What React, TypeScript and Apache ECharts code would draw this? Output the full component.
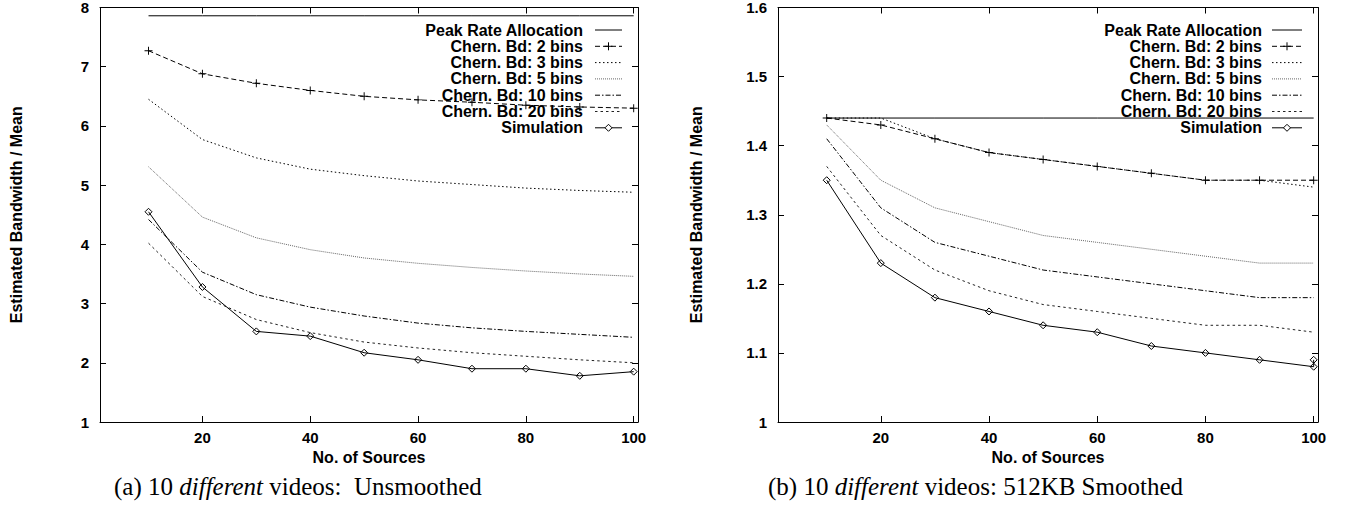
import React, { useEffect, useRef } from "react";
import * as echarts from "echarts";

// ---------- data ----------
const sources = [10, 20, 30, 40, 50, 60, 70, 80, 90, 100];
const xTicks = [20, 40, 60, 80, 100];

// (a) 10 different videos: Unsmoothed
const aPeak = [7.86, 7.86, 7.86, 7.86, 7.86, 7.86, 7.86, 7.86, 7.86, 7.86];
const aChern2 = [7.27, 6.88, 6.72, 6.6, 6.5, 6.44, 6.4, 6.35, 6.32, 6.3];
const aChern3 = [6.45, 5.77, 5.46, 5.27, 5.16, 5.07, 5.01, 4.95, 4.91, 4.88];
const aChern5 = [5.31, 4.46, 4.11, 3.91, 3.77, 3.68, 3.61, 3.55, 3.5, 3.46];
const aChern10 = [4.42, 3.53, 3.15, 2.94, 2.79, 2.67, 2.59, 2.53, 2.48, 2.43];
const aChern20 = [4.02, 3.12, 2.73, 2.51, 2.35, 2.25, 2.17, 2.11, 2.05, 2.0];
const aSim = [4.55, 3.28, 2.53, 2.45, 2.17, 2.05, 1.9, 1.9, 1.78, 1.85];

// (b) 10 different videos: 512KB Smoothed
const bPeak = [1.44, 1.44, 1.44, 1.44, 1.44, 1.44, 1.44, 1.44, 1.44, 1.44];
const bChern2 = [1.44, 1.43, 1.41, 1.39, 1.38, 1.37, 1.36, 1.35, 1.35, 1.35];
const bChern3 = [1.44, 1.44, 1.41, 1.39, 1.38, 1.37, 1.36, 1.35, 1.35, 1.34];
const bChern5 = [1.43, 1.35, 1.31, 1.29, 1.27, 1.26, 1.25, 1.24, 1.23, 1.23];
const bChern10 = [1.41, 1.31, 1.26, 1.24, 1.22, 1.21, 1.2, 1.19, 1.18, 1.18];
const bChern20 = [1.37, 1.27, 1.22, 1.19, 1.17, 1.16, 1.15, 1.14, 1.14, 1.13];
const bSim = [1.35, 1.23, 1.18, 1.16, 1.14, 1.13, 1.11, 1.1, 1.09, 1.08];
const bSimExtra = [[100, 1.09]];

const legendNames = [
  "Peak Rate Allocation",
  "Chern. Bd: 2 bins",
  "Chern. Bd: 3 bins",
  "Chern. Bd: 5 bins",
  "Chern. Bd: 10 bins",
  "Chern. Bd: 20 bins",
  "Simulation",
];
const captionA = "(a) 10 {i|different} videos:\u00A0 Unsmoothed";
const captionB = "(b) 10 {i|different} videos: 512KB Smoothed";

// ---------- styles ----------
const SANS = "Liberation Sans";
const SERIF = "Liberation Serif";
const PLUS = "path://M4.4,0H5.6V4.4H10V5.6H5.6V10H4.4V5.6H0V4.4H4.4Z";

type Sty = { dash: number[] | "solid"; color: string; marker?: "plus" | "diamond" };
const styles: Sty[] = [
  { dash: "solid", color: "#000" },
  { dash: [5, 3], color: "#000", marker: "plus" },
  { dash: [1.5, 2.5], color: "#000" },
  { dash: [1, 1], color: "#666" },
  { dash: [5, 2, 1.5, 2], color: "#000" },
  { dash: [2.5, 3], color: "#222" },
  { dash: "solid", color: "#000", marker: "diamond" },
];

function pairs(vals: number[]) {
  return sources.map((s, i) => [s, vals[i]]);
}

function makeSeries(sets: number[][], xi: number, yi: number) {
  return sets.map((vals, k) => {
    const st = styles[k];
    const s: any = {
      type: "line",
      name: legendNames[k],
      xAxisIndex: xi,
      yAxisIndex: yi,
      data: pairs(vals),
      lineStyle: { color: st.color, width: 1, type: st.dash },
      showSymbol: !!st.marker,
      symbol: st.marker === "plus" ? PLUS : st.marker === "diamond" ? "diamond" : "none",
      symbolSize: st.marker === "plus" ? 8 : 7,
      itemStyle:
        st.marker === "diamond"
          ? { color: "transparent", borderColor: "#000", borderWidth: 1 }
          : { color: "#000" },
      z: 3,
      silent: true,
    };
    return s;
  });
}

function legendGraphics(textRight: number, lineX1: number, lineX2: number) {
  const els: any[] = [];
  const y0 = 30;
  const dy = 16.3;
  legendNames.forEach((name, k) => {
    const y = y0 + k * dy;
    const st = styles[k];
    els.push({
      type: "text",
      x: textRight,
      y,
      style: {
        text: name,
        font: `bold 16px "${SANS}"`,
        fill: "#000",
        align: "right",
        verticalAlign: "middle",
      },
    });
    els.push({
      type: "line",
      shape: { x1: lineX1, y1: y, x2: lineX2, y2: y },
      style: {
        stroke: st.color,
        lineWidth: 1,
        lineDash: st.dash === "solid" ? null : st.dash,
      },
    });
    const cx = (lineX1 + lineX2) / 2;
    if (st.marker === "plus") {
      els.push({ type: "line", shape: { x1: cx - 4, y1: y, x2: cx + 4, y2: y }, style: { stroke: "#000", lineWidth: 1 } });
      els.push({ type: "line", shape: { x1: cx, y1: y - 4, x2: cx, y2: y + 4 }, style: { stroke: "#000", lineWidth: 1 } });
    } else if (st.marker === "diamond") {
      els.push({
        type: "polygon",
        shape: { points: [[cx, y - 3.5], [cx + 3.5, y], [cx, y + 3.5], [cx - 3.5, y]] },
        style: { fill: "#fff", stroke: "#000", lineWidth: 1 },
      });
    }
  });
  return els;
}

const labelFont = { fontFamily: SANS, fontWeight: "bold" as const, fontSize: 15, color: "#000" };
const nameFont = { fontFamily: SANS, fontWeight: "bold" as const, fontSize: 16, color: "#000" };
const axisLine = { show: true, lineStyle: { color: "#000", width: 1 } };

function xAxes(grid: number) {
  return [
    {
      type: "value",
      gridIndex: grid,
      position: "bottom",
      min: 1,
      max: 100.8,
      name: "No. of Sources",
      nameLocation: "middle",
      nameGap: 22,
      nameTextStyle: nameFont,
      axisLine,
      axisTick: { show: true, inside: true, length: 6, customValues: xTicks, lineStyle: { color: "#000" } },
      axisLabel: { show: true, margin: 8, customValues: xTicks, ...labelFont },
      splitLine: { show: false },
    },
    {
      type: "value",
      gridIndex: grid,
      position: "top",
      min: 1,
      max: 100.8,
      axisLine,
      axisTick: { show: true, inside: true, length: 6, customValues: xTicks, lineStyle: { color: "#000" } },
      axisLabel: { show: false },
      splitLine: { show: false },
    },
  ];
}

function yAxes(grid: number, min: number, max: number, interval: number, gap: number, fmt: (v: number) => string) {
  return [
    {
      type: "value",
      gridIndex: grid,
      position: "left",
      min,
      max,
      interval,
      name: "Estimated Bandwidth / Mean",
      nameLocation: "middle",
      nameGap: gap,
      nameRotate: 90,
      nameTextStyle: nameFont,
      axisLine,
      axisTick: { show: true, inside: true, length: 6, lineStyle: { color: "#000" } },
      axisLabel: { show: true, margin: 11, formatter: fmt, ...labelFont },
      splitLine: { show: false },
    },
    {
      type: "value",
      gridIndex: grid,
      position: "right",
      min,
      max,
      interval,
      axisLine,
      axisTick: { show: true, inside: true, length: 6, lineStyle: { color: "#000" } },
      axisLabel: { show: false },
      splitLine: { show: false },
    },
  ];
}

export default function App() {
  const ref = useRef<HTMLDivElement>(null);
  useEffect(() => {
    if (!ref.current) return;
    const chart = echarts.init(ref.current, undefined, { renderer: "svg" });
    const fmtA = (v: number) => String(Math.round(v));
    const fmtB = (v: number) => String(Math.round(v * 10) / 10);
    const seriesA = makeSeries([aPeak, aChern2, aChern3, aChern5, aChern10, aChern20, aSim], 0, 0);
    const seriesB = makeSeries([bPeak, bChern2, bChern3, bChern5, bChern10, bChern20, bSim], 2, 2);
    // extra simulation point at 100 in (b)
    seriesB[6].data = seriesB[6].data.concat(bSimExtra);

    chart.setOption({
      animation: false,
      backgroundColor: "#fff",
      grid: [
        { left: 100, top: 7, width: 538, height: 415 },
        { left: 778, top: 7, width: 540, height: 415 },
      ],
      xAxis: [...xAxes(0), ...xAxes(1)],
      yAxis: [...yAxes(0, 1, 8, 1, 76, fmtA), ...yAxes(1, 1, 1.6, 0.1, 74, fmtB)],
      series: [...seriesA, ...seriesB],
      graphic: [
        ...legendGraphics(583, 595, 622),
        ...legendGraphics(1262, 1272, 1302),
        {
          type: "text",
          x: 114,
          y: 486,
          style: {
            text: captionA,
            font: `25px "${SERIF}"`,
            fill: "#000",
            verticalAlign: "middle",
            rich: { i: { fontStyle: "italic", fontFamily: SERIF, fontSize: 25 } },
          },
        },
        {
          type: "text",
          x: 768,
          y: 486,
          style: {
            text: captionB,
            font: `25px "${SERIF}"`,
            fill: "#000",
            verticalAlign: "middle",
            rich: { i: { fontStyle: "italic", fontFamily: SERIF, fontSize: 25 } },
          },
        },
      ],
    });
    return () => chart.dispose();
  }, []);
  return (
    <div
      ref={ref}
      style={{ position: "fixed", left: 0, top: 0, width: 1345, height: 512, background: "#fff" }}
    />
  );
}
